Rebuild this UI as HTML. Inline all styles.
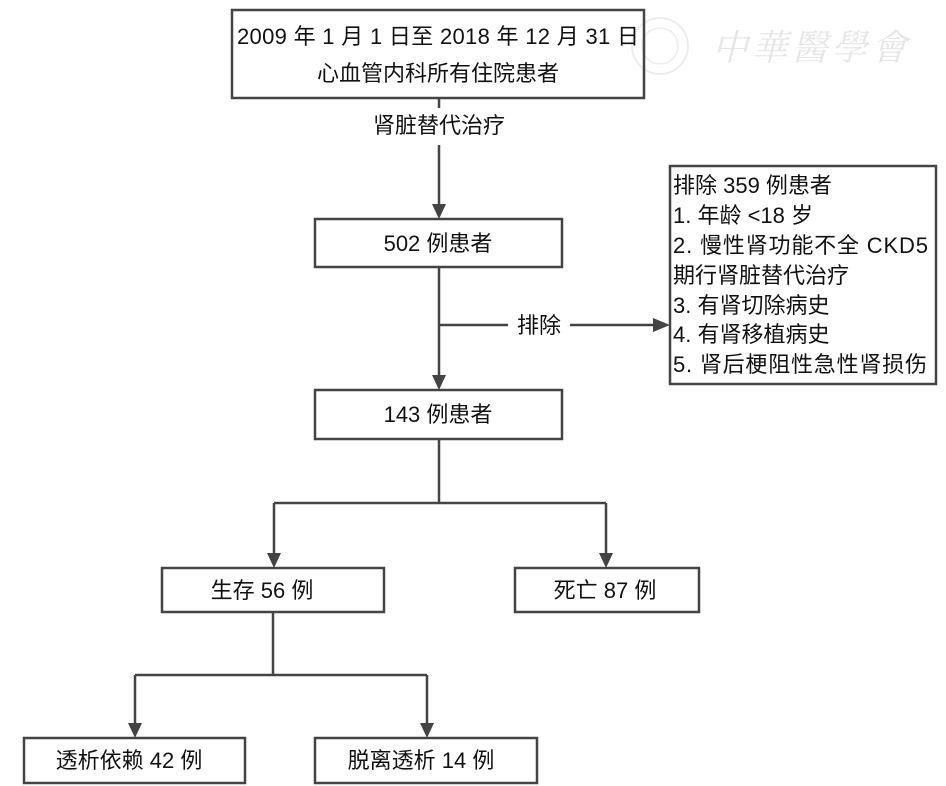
<!DOCTYPE html>
<html><head><meta charset="utf-8"><style>
html,body{margin:0;padding:0;background:#fff;}
svg{display:block;}
text{font-family:"Liberation Sans","Noto Sans CJK SC",sans-serif;font-size:22px;fill:#111;}
</style></head><body>
<svg width="946" height="786" viewBox="0 0 946 786" xmlns="http://www.w3.org/2000/svg">
<!-- watermark -->
<g opacity="0.18" stroke="#999" fill="none">
<circle cx="660" cy="46" r="28" stroke-width="2"/>
<circle cx="660" cy="46" r="18" stroke-width="1.5"/>
</g>
<text x="712" y="60" style="font-family:'Noto Serif CJK SC',serif;font-size:36px;fill:#e6e6e6;font-style:italic" textLength="195">中華醫學會</text>

<g fill="none" stroke="#444" stroke-width="2.5">
<rect x="232" y="10" width="412" height="88"/>
<rect x="315" y="219" width="247" height="48"/>
<rect x="670" y="166" width="266" height="218"/>
<rect x="315" y="390" width="247" height="49"/>
<rect x="162" y="568" width="222" height="44"/>
<rect x="515" y="568" width="184" height="44"/>
<rect x="24" y="738" width="221" height="45"/>
<rect x="315" y="738" width="222" height="45"/>
<path d="M439 98V108 M439 145V205"/>
<path d="M439 267V376"/>
<path d="M439 325H508 M570 325H654"/>
<path d="M439 439V503 M274 503H606 M274 503V554 M606 503V554"/>
<path d="M273 612V675 M135 675H427 M135 675V724 M427 675V724"/>
</g>
<g fill="#444">
<polygon points="432,204 446,204 439,219"/>
<polygon points="432,375 446,375 439,390"/>
<polygon points="653,318 653,332 670,325"/>
<polygon points="267,553 281,553 274,568"/>
<polygon points="599,553 613,553 606,568"/>
<polygon points="128,723 142,723 135,738"/>
<polygon points="420,723 434,723 427,738"/>
</g>

<text x="237" y="44" textLength="402">2009 年 1 月 1 日至 2018 年 12 月 31 日</text>
<text x="438" y="81" text-anchor="middle">心血管内科所有住院患者</text>
<text x="439" y="133" text-anchor="middle">肾脏替代治疗</text>
<text x="438" y="251" text-anchor="middle">502 例患者</text>
<text x="539" y="333" text-anchor="middle">排除</text>
<text x="438" y="422" text-anchor="middle">143 例患者</text>
<text x="262" y="598" text-anchor="middle">生存 56 例</text>
<text x="605" y="598" text-anchor="middle">死亡 87 例</text>
<text x="129" y="768" text-anchor="middle">透析依赖 42 例</text>
<text x="421" y="768" text-anchor="middle">脱离透析 14 例</text>

<text x="673" y="193">排除 359 例患者</text>
<text x="673" y="223">1. 年龄 &lt;18 岁</text>
<text x="673" y="253" textLength="255">2. 慢性肾功能不全 CKD5</text>
<text x="673" y="283">期行肾脏替代治疗</text>
<text x="673" y="313">3. 有肾切除病史</text>
<text x="673" y="342">4. 有肾移植病史</text>
<text x="673" y="372" textLength="254">5. 肾后梗阻性急性肾损伤</text>
</svg>
</body></html>
